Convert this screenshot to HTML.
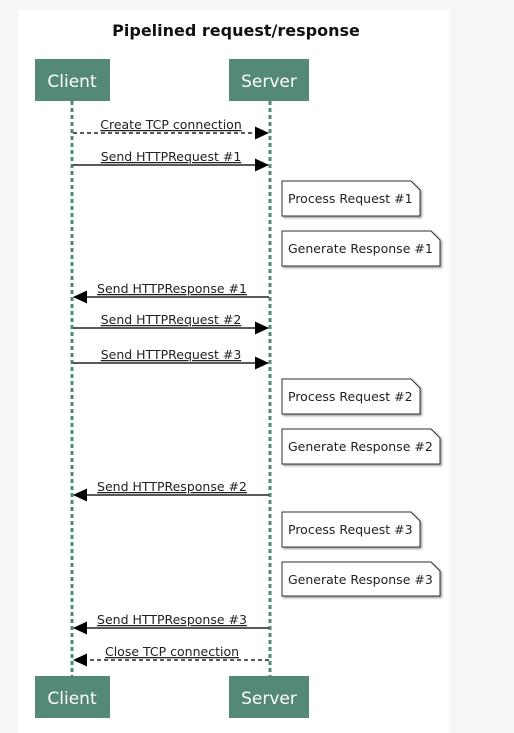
<!DOCTYPE html>
<html><head><style>
body{margin:0;width:514px;height:733px;background:#f6f6f6;font-family:"DejaVu Sans","Liberation Sans",sans-serif;overflow:hidden}
</style></head><body>
<svg width="514" height="733" xmlns="http://www.w3.org/2000/svg" style="position:absolute;left:0;top:0">
<defs>
<marker id="a" markerWidth="14" markerHeight="14" refX="13" refY="6.5" orient="auto" markerUnits="userSpaceOnUse"><path d="M0,0 L14,6.5 L0,13 z" fill="#000"/></marker>
<filter id="s"><feDropShadow dx="1.5" dy="1.5" stdDeviation="1" flood-color="#555" flood-opacity="0.6"/></filter>
</defs>
<rect x="18" y="10" width="432" height="723" fill="#fff"/>
<text x="236" y="36" text-anchor="middle" font-size="16" font-weight="bold" fill="#111">Pipelined request/response</text>
<g fill="#548a75">
<rect x="35" y="59" width="75" height="42"/><rect x="229" y="59" width="80" height="42"/>
<rect x="35" y="676" width="75" height="42"/><rect x="229" y="676" width="80" height="42"/>
</g>
<g fill="#fff" font-size="17" text-anchor="middle">
<text x="72" y="87">Client</text><text x="269" y="87">Server</text>
<text x="72" y="704">Client</text><text x="269" y="704">Server</text>
</g>
<g stroke="#4f8a78" stroke-width="3" stroke-dasharray="4,3">
<line x1="72" y1="101" x2="72" y2="676"/><line x1="270" y1="101" x2="270" y2="676"/>
</g>
<g stroke="#222" stroke-width="1.6" fill="none">
<line x1="73" y1="133" x2="268" y2="133" stroke-dasharray="4,3" marker-end="url(#a)"/>
<line x1="73" y1="165" x2="268" y2="165" marker-end="url(#a)"/>
<line x1="269" y1="297" x2="74" y2="297" marker-end="url(#a)"/>
<line x1="73" y1="328" x2="268" y2="328" marker-end="url(#a)"/>
<line x1="73" y1="363" x2="268" y2="363" marker-end="url(#a)"/>
<line x1="269" y1="495" x2="74" y2="495" marker-end="url(#a)"/>
<line x1="269" y1="628" x2="74" y2="628" marker-end="url(#a)"/>
<line x1="269" y1="660" x2="74" y2="660" stroke-dasharray="4,3" marker-end="url(#a)"/>
</g>
<g font-size="12.5" fill="#222" text-anchor="middle" text-decoration="underline">
<text x="171" y="129">Create TCP connection</text>
<text x="171" y="161">Send HTTPRequest #1</text>
<text x="172" y="293">Send HTTPResponse #1</text>
<text x="171" y="324">Send HTTPRequest #2</text>
<text x="171" y="359">Send HTTPRequest #3</text>
<text x="172" y="491">Send HTTPResponse #2</text>
<text x="172" y="624">Send HTTPResponse #3</text>
<text x="172" y="656">Close TCP connection</text>
</g>
<g font-size="12.5" fill="#222">
<g filter="url(#s)" fill="#fff" stroke="#333" stroke-width="1">
<path d="M282,181 H411 L420,190 V216 H282 Z"/>
<path d="M282,231 H431 L440,240 V266 H282 Z"/>
<path d="M282,379 H411 L420,388 V414 H282 Z"/>
<path d="M282,429 H431 L440,438 V464 H282 Z"/>
<path d="M282,512 H411 L420,521 V547 H282 Z"/>
<path d="M282,562 H431 L440,571 V596 H282 Z"/>
</g>
<text x="288" y="203">Process Request #1</text>
<text x="288" y="253">Generate Response #1</text>
<text x="288" y="401">Process Request #2</text>
<text x="288" y="451">Generate Response #2</text>
<text x="288" y="534">Process Request #3</text>
<text x="288" y="584">Generate Response #3</text>
</g>
</svg>
</body></html>
